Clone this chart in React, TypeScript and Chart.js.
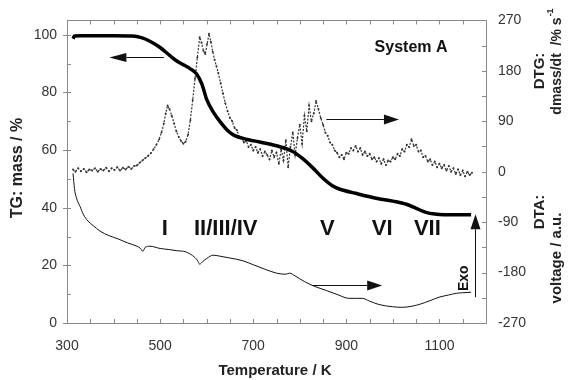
import { useEffect, useRef } from 'react';
import { Chart, registerables } from 'chart.js';

Chart.register(...registerables);

const FONT = '"Liberation Sans", Arial, Helvetica, sans-serif';

// TG (left axis, mass %)
const tgTemp = [313, 316, 330, 360, 400, 440, 460, 480, 500, 521, 535, 550, 565, 578, 590, 600, 615, 630, 645, 660, 690, 714, 750, 784, 805, 827, 850, 870, 885, 920, 964, 1000, 1029, 1050, 1071, 1090, 1110, 1140, 1168];
const tgMass = [98.6, 99.6, 99.7, 99.7, 99.7, 99.6, 99.0, 97.6, 95.6, 92.8, 91.0, 89.6, 88.2, 86.5, 82.8, 77.6, 73.0, 69.6, 66.8, 65.0, 63.6, 62.8, 61.5, 59.6, 57.2, 54.0, 50.2, 47.6, 46.5, 45.0, 43.3, 42.3, 41.2, 39.8, 38.4, 37.8, 37.6, 37.6, 37.6];

// DTG (right axis, dmass/dt)
const dtgTemp = [313, 318, 324, 330, 336, 342, 348, 354, 360, 366, 372, 378, 384, 390, 396, 402, 408, 414, 420, 426, 432, 438, 444, 450, 456, 462, 468, 474, 480, 486, 492, 498, 503, 508, 512, 516, 520, 525, 530, 535, 540, 545, 550, 555, 560, 565, 570, 575, 580, 585, 589, 593, 597, 601, 605, 609, 613, 617, 621, 625, 630, 635, 640, 645, 650, 655, 660, 665, 670, 675, 680, 685, 690, 695, 700, 705, 710, 715, 720, 725, 730, 735, 740, 745, 750, 755, 760, 765, 770, 775, 780, 785, 790, 795, 800, 805, 810, 815, 820, 825, 830, 835, 840, 845, 850, 855, 860, 865, 870, 875, 880, 885, 890, 895, 900, 905, 910, 915, 920, 925, 930, 935, 940, 945, 950, 955, 960, 965, 970, 975, 980, 985, 990, 995, 1000, 1005, 1010, 1015, 1020, 1025, 1030, 1035, 1040, 1045, 1050, 1055, 1060, 1065, 1070, 1075, 1080, 1085, 1090, 1095, 1100, 1105, 1110, 1115, 1120, 1125, 1130, 1135, 1140, 1145, 1150, 1155, 1160, 1165, 1170];
const dtgRate = [4, 0, 6, 1, 5, -1, 4, 2, 6, 0, 5, 2, 7, 1, 6, 3, 8, 2, 7, 4, 9, 5, 10, 11, 16, 20, 24, 28, 33, 40, 48, 58, 70, 86, 104, 118, 112, 100, 86, 72, 62, 55, 50, 54, 66, 92, 128, 166, 204, 240, 230, 216, 210, 228, 246, 232, 214, 200, 188, 176, 158, 140, 122, 108, 96, 90, 78, 74, 62, 60, 52, 55, 44, 48, 38, 44, 34, 40, 28, 36, 30, 22, 38, 26, 34, 14, 40, 20, 56, 8, 44, 70, 30, 60, 84, 50, 100, 72, 118, 90, 104, 126, 112, 96, 84, 70, 64, 52, 48, 38, 34, 26, 30, 22, 34, 32, 42, 38, 46, 36, 42, 30, 36, 28, 32, 22, 26, 18, 24, 14, 22, 12, 20, 18, 26, 22, 32, 28, 40, 36, 48, 44, 58, 46, 48, 36, 38, 26, 28, 18, 22, 12, 18, 8, 14, 6, 12, 2, 10, 0, 6, -4, 4, -6, 2, -8, 0, -6, -2];

// DTA (right axis, voltage a.u.)
const dtaTemp = [313, 316, 320, 328, 335, 345, 356, 371, 390, 410, 430, 450, 458, 463, 468, 478, 500, 520, 536, 555, 570, 580, 585, 592, 600, 614, 630, 650, 678, 700, 725, 750, 770, 778, 790, 810, 830, 857, 880, 906, 920, 934, 950, 970, 999, 1020, 1041, 1060, 1080, 1099, 1120, 1136, 1150, 1168];
const dtaVolt = [-3, -30, -46, -62, -76, -88, -96, -106, -114, -120, -127, -133, -137, -142, -135, -133, -137, -139, -141, -143, -150, -158, -165, -160, -155, -149, -151, -154, -159, -166, -174, -181, -183, -181, -186, -196, -204, -212, -219, -226, -226, -226, -231, -237, -241, -242, -240, -236, -230, -224, -220, -217, -216, -215];

const xTickValues = [300, 500, 700, 900, 1100];
const leftTickValues = [0, 20, 40, 60, 80, 100];
const rightTickValues = [-270, -180, -90, 0, 90, 180, 270];

const stageLabels = ['I', 'II/III/IV', 'V', 'VI', 'VII'];
const stageTemp = [510, 641, 859, 977, 1074];

const decoPlugin = {
  id: 'deco',
  afterDraw(chart: any) {
    const { ctx, chartArea: a, scales } = chart;
    const x = scales.x, y = scales.y, y1 = scales.y1;
    ctx.save();
    // frame
    ctx.strokeStyle = '#8a8a8a';
    ctx.lineWidth = 1;
    ctx.strokeRect(Math.round(a.left) + 0.5, Math.round(a.top) + 0.5, Math.round(a.right - a.left), Math.round(a.bottom - a.top));
    const seg = (x1: number, y1_: number, x2: number, y2: number) => {
      ctx.beginPath(); ctx.moveTo(x1, y1_); ctx.lineTo(x2, y2); ctx.stroke();
    };
    for (let v = 300; v <= 1200; v += 50) {
      const px = Math.round(x.getPixelForValue(v)) + 0.5;
      seg(px, a.bottom, px, a.bottom - 4);
      seg(px, a.top, px, a.top + 4);
    }
    for (let v = 0; v <= 100; v += 10) {
      const py = Math.round(y.getPixelForValue(v)) + 0.5;
      const major = v % 20 === 0;
      seg(a.left - (major ? 4 : 0), py, a.left + 4, py);
    }
    for (let v = -270; v <= 270; v += 45) {
      const py = Math.round(y1.getPixelForValue(v)) + 0.5;
      seg(a.right - 4, py, a.right, py);
    }

    // arrows
    const arrow = (x1: number, yy1: number, x2: number, yy2: number, len = 15, hw = 5) => {
      ctx.strokeStyle = '#111';
      ctx.fillStyle = '#111';
      ctx.lineWidth = 1;
      const ang = Math.atan2(yy2 - yy1, x2 - x1);
      const bx = x2 - len * Math.cos(ang), by = yy2 - len * Math.sin(ang);
      seg(x1, yy1, bx, by);
      ctx.beginPath();
      ctx.moveTo(x2, yy2);
      ctx.lineTo(bx + hw * Math.sin(ang), by - hw * Math.cos(ang));
      ctx.lineTo(bx - hw * Math.sin(ang), by + hw * Math.cos(ang));
      ctx.closePath();
      ctx.fill();
    };
    const py0 = Math.round(y.getPixelForValue(92.4)) + 0.5;
    arrow(x.getPixelForValue(508), py0, x.getPixelForValue(391), py0, 17, 4.5);
    const py1 = Math.round(y1.getPixelForValue(93.5)) + 0.5;
    arrow(x.getPixelForValue(857), py1, x.getPixelForValue(1013), py1, 15, 5);
    const py2 = Math.round(y1.getPixelForValue(-203)) + 0.5;
    arrow(x.getPixelForValue(827), py2, x.getPixelForValue(977), py2, 15, 5);
    const ex = Math.round(x.getPixelForValue(1176)) + 0.5;
    arrow(ex, y1.getPixelForValue(-224), ex, y1.getPixelForValue(-76), 15, 5);

    // texts
    ctx.fillStyle = '#111';
    ctx.textAlign = 'center';
    ctx.textBaseline = 'middle';
    ctx.font = `bold 22px ${FONT}`;
    const sy = y.getPixelForValue(32.6);
    stageLabels.forEach((s, i) => ctx.fillText(s, x.getPixelForValue(stageTemp[i]), sy));
    ctx.font = `bold 16px ${FONT}`;
    ctx.fillText('System A', x.getPixelForValue(1039), y.getPixelForValue(95.5));

    const rot = (text: string, cx: number, cy: number, font: string) => {
      ctx.save();
      ctx.translate(cx, cy);
      ctx.rotate(-Math.PI / 2);
      ctx.font = font;
      ctx.fillText(text, 0, 0);
      ctx.restore();
    };
    rot('Exo', x.getPixelForValue(1154), y1.getPixelForValue(-190), `bold 14px ${FONT}`);

    // axis titles
    ctx.fillStyle = '#222';
    ctx.font = `bold 15px ${FONT}`;
    ctx.fillText('Temperature / K', 275, 371);
    rot('TG: mass / %', 18, 168, `bold 16px ${FONT}`);
    rot('DTG:', 540, 71, `bold 15px ${FONT}`);
    rot('DTA:', 540, 212, `bold 15px ${FONT}`);
    rot('voltage / a.u.', 557, 258, `bold 15px ${FONT}`);
    // dmass/dt with superscript
    ctx.save();
    ctx.translate(557, 62);
    ctx.rotate(-Math.PI / 2);
    ctx.textAlign = 'left';
    ctx.font = `bold 14px ${FONT}`;
    const main = 'dmass/dt  /% s';
    const w1 = ctx.measureText(main).width;
    ctx.font = `bold 9px ${FONT}`;
    const sup = '-1';
    const w2 = ctx.measureText(sup).width;
    const start = -(w1 + w2) / 2;
    ctx.font = `bold 14px ${FONT}`;
    ctx.fillText(main, start, 0);
    ctx.font = `bold 9px ${FONT}`;
    ctx.fillText(sup, start + w1 + 1, -6);
    ctx.restore();

    ctx.restore();
  },
};

export default function App() {
  const ref = useRef<HTMLCanvasElement | null>(null);
  useEffect(() => {
    if (!ref.current) return;
    const tickFont = { family: FONT, size: 14 };
    const chart = new Chart(ref.current, {
      type: 'line',
      data: {
        datasets: [
          {
            label: 'TG',
            data: tgTemp.map((t, i) => ({ x: t, y: tgMass[i] })),
            yAxisID: 'y',
            borderColor: '#000',
            borderWidth: 3.5,
            pointRadius: 0,
            cubicInterpolationMode: 'monotone',
          },
          {
            label: 'DTG',
            data: dtgTemp.map((t, i) => ({ x: t, y: dtgRate[i] })),
            yAxisID: 'y1',
            borderColor: '#333',
            borderWidth: 1.2,
            borderDash: [2, 1.5],
            pointRadius: 1,
            pointBorderWidth: 0,
            pointBackgroundColor: '#333',
            tension: 0,
          },
          {
            label: 'DTA',
            data: dtaTemp.map((t, i) => ({ x: t, y: dtaVolt[i] })),
            yAxisID: 'y1',
            borderColor: '#111',
            borderWidth: 1,
            pointRadius: 0,
            cubicInterpolationMode: 'monotone',
          },
        ],
      },
      options: {
        responsive: false,
        animation: false,
        layout: { padding: { top: 17, left: 0, right: 0, bottom: 0 } },
        plugins: { legend: { display: false }, tooltip: { enabled: false } },
        scales: {
          x: {
            type: 'linear',
            position: 'bottom',
            min: 300,
            max: 1200,
            afterFit: (s: any) => { s.height = 57; },
            afterBuildTicks: (s: any) => { s.ticks = xTickValues.map((v) => ({ value: v })); },
            grid: { display: false, drawTicks: false },
            border: { display: false },
            ticks: { font: tickFont, color: '#333', padding: 15, maxRotation: 0, autoSkip: false, callback: (v: any) => String(v) },
          },
          y: {
            type: 'linear',
            position: 'left',
            min: 0,
            max: 105,
            afterFit: (s: any) => { s.width = 67; },
            afterBuildTicks: (s: any) => { s.ticks = leftTickValues.map((v) => ({ value: v })); },
            grid: { display: false, drawTicks: false },
            border: { display: false },
            ticks: { font: tickFont, color: '#333', padding: 10, autoSkip: false, callback: (v: any) => String(v) },
          },
          y1: {
            type: 'linear',
            position: 'right',
            min: -270,
            max: 270,
            afterFit: (s: any) => { s.width = 85; },
            afterBuildTicks: (s: any) => { s.ticks = rightTickValues.map((v) => ({ value: v })); },
            grid: { display: false, drawTicks: false },
            border: { display: false },
            ticks: { font: tickFont, color: '#333', padding: 12, autoSkip: false, callback: (v: any) => String(v) },
          },
        },
      },
      plugins: [decoPlugin],
    } as any);
    return () => chart.destroy();
  }, []);
  return (
    <div style={{ position: 'absolute', left: 0, top: 0, width: 571, height: 380, background: '#fff' }}>
      <canvas ref={ref} width={571} height={380} style={{ width: 571, height: 380, display: 'block' }} />
    </div>
  );
}
